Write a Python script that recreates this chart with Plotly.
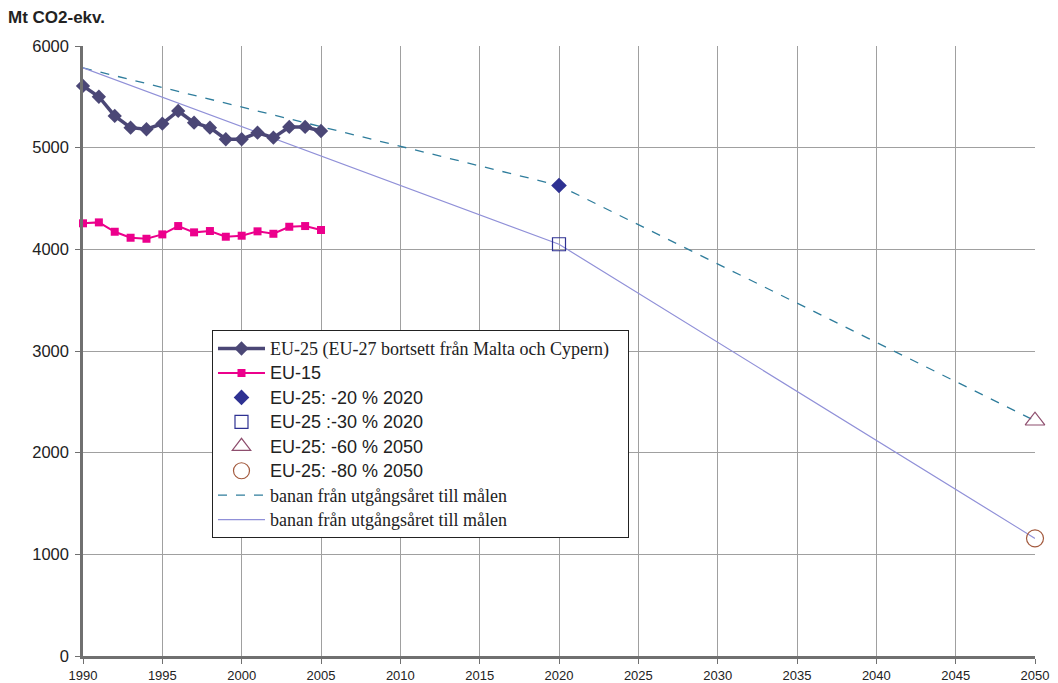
import plotly.graph_objects as go

years = list(range(1990, 2006))
eu25 = [5607, 5501, 5312, 5197, 5181, 5236, 5361, 5246, 5197, 5083, 5083, 5147, 5098, 5204, 5204, 5164]
eu15 = [4256, 4265, 4173, 4114, 4104, 4147, 4229, 4167, 4180, 4124, 4134, 4177, 4153, 4222, 4229, 4190]

base_year = 1990
base_value = 5785
target_m20 = (2020, 4628)
target_m30 = (2020, 4050)
target_m60 = (2050, 2314)
target_m80 = (2050, 1157)

path_dash_x = [base_year, target_m20[0], target_m60[0]]
path_dash_y = [base_value, target_m20[1], target_m60[1]]
path_solid_x = [base_year, target_m30[0], target_m80[0]]
path_solid_y = [base_value, target_m30[1], target_m80[1]]

x_ticks = list(range(1990, 2051, 5))
y_ticks = list(range(0, 6001, 1000))

SANS = "Liberation Sans, Arial, sans-serif"
SERIF = "Liberation Serif, Times New Roman, serif"

def serif(s, pad=0):
    return f'<span style="font-family:{SERIF};font-size:18px">{s}{"&nbsp;" * pad}</span>'

def sans(s):
    return f'<span style="font-size:18px">{s}</span>'

fig = go.Figure()

fig.add_trace(go.Scatter(x=path_dash_x, y=path_dash_y, mode="lines",
                         line=dict(color="#2F7D9C", width=1.3, dash="dash"),
                         name=serif("banan från utgångsåret till målen"), legendrank=7))
fig.add_trace(go.Scatter(x=path_solid_x, y=path_solid_y, mode="lines",
                         line=dict(color="#9090D8", width=1.2),
                         name=serif("banan från utgångsåret till målen"), legendrank=8))

fig.add_trace(go.Scatter(x=years, y=eu25, mode="lines+markers",
                         line=dict(color="#4B4776", width=3.5),
                         marker=dict(symbol="diamond", size=11, color="#4B4776"),
                         cliponaxis=False,
                         name=serif("EU-25 (EU-27 bortsett från Malta och Cypern)", pad=3),
                         legendrank=1))
fig.add_trace(go.Scatter(x=years, y=eu15, mode="lines+markers",
                         line=dict(color="#EC008C", width=2),
                         marker=dict(symbol="square", size=8, color="#EC008C"),
                         cliponaxis=False,
                         name=sans("EU-15"), legendrank=2))

fig.add_trace(go.Scatter(x=[target_m20[0]], y=[target_m20[1]], mode="markers",
                         marker=dict(symbol="diamond", size=12, color="#2E3192"),
                         cliponaxis=False,
                         name=sans("EU-25: -20 % 2020"), legendrank=3))
fig.add_trace(go.Scatter(x=[target_m30[0]], y=[target_m30[1]], mode="markers",
                         marker=dict(symbol="square-open", size=13, color="#2E3192",
                                     line=dict(width=1.2)),
                         cliponaxis=False,
                         name=sans("EU-25 :-30 % 2020"), legendrank=4))
fig.add_trace(go.Scatter(x=[target_m60[0]], y=[target_m60[1]], mode="markers",
                         marker=dict(symbol="triangle-up-open", size=17, color="#8E4E6E",
                                     line=dict(width=1.2)),
                         cliponaxis=False,
                         name=sans("EU-25: -60 % 2050"), legendrank=5))
fig.add_trace(go.Scatter(x=[target_m80[0]], y=[target_m80[1]], mode="markers",
                         marker=dict(symbol="circle-open", size=17, color="#A35A3E",
                                     line=dict(width=1.2)),
                         cliponaxis=False,
                         name=sans("EU-25: -80 % 2050"), legendrank=6))

fig.update_layout(
    width=1058, height=683,
    margin=dict(l=75, r=31, t=38, b=35),
    paper_bgcolor="white", plot_bgcolor="white",
    font=dict(family=SANS, color="#222222"),
    showlegend=True,
    legend=dict(x=0.1355, y=0.534, xanchor="left", yanchor="top",
                bgcolor="white", bordercolor="#222222", borderwidth=1,
                font=dict(size=16.5, family=SANS, color="#222222"),
                tracegroupgap=0, itemwidth=47),
    annotations=[dict(text="<b>Mt CO2-ekv.</b>", xref="paper", yref="paper",
                      x=-0.081, y=1.046, xanchor="left", yanchor="middle",
                      showarrow=False, font=dict(size=17, family=SANS, color="#222222"))],
)

fig.update_xaxes(range=[1990, 2050], tickvals=x_ticks, ticktext=[str(v) for v in x_ticks],
                 showgrid=True, gridcolor="#A0A0A0", gridwidth=1,
                 showline=True, linecolor="#707070", linewidth=2.5,
                 ticks="outside", ticklen=5, tickcolor="#707070",
                 ticklabelstandoff=1,
                 tickfont=dict(size=13, family=SANS, color="#222222"),
                 zeroline=False, mirror=False, automargin=False)
fig.update_yaxes(range=[0, 6000], tickvals=y_ticks, ticktext=[str(v) for v in y_ticks],
                 showgrid=True, gridcolor="#A0A0A0", gridwidth=1,
                 showline=True, linecolor="#707070", linewidth=2.5,
                 ticks="outside", ticklen=5, tickcolor="#707070",
                 ticklabelstandoff=3,
                 tickfont=dict(size=16.5, family=SANS, color="#222222"),
                 zeroline=False, automargin=False)

fig.write_html("out.html")
